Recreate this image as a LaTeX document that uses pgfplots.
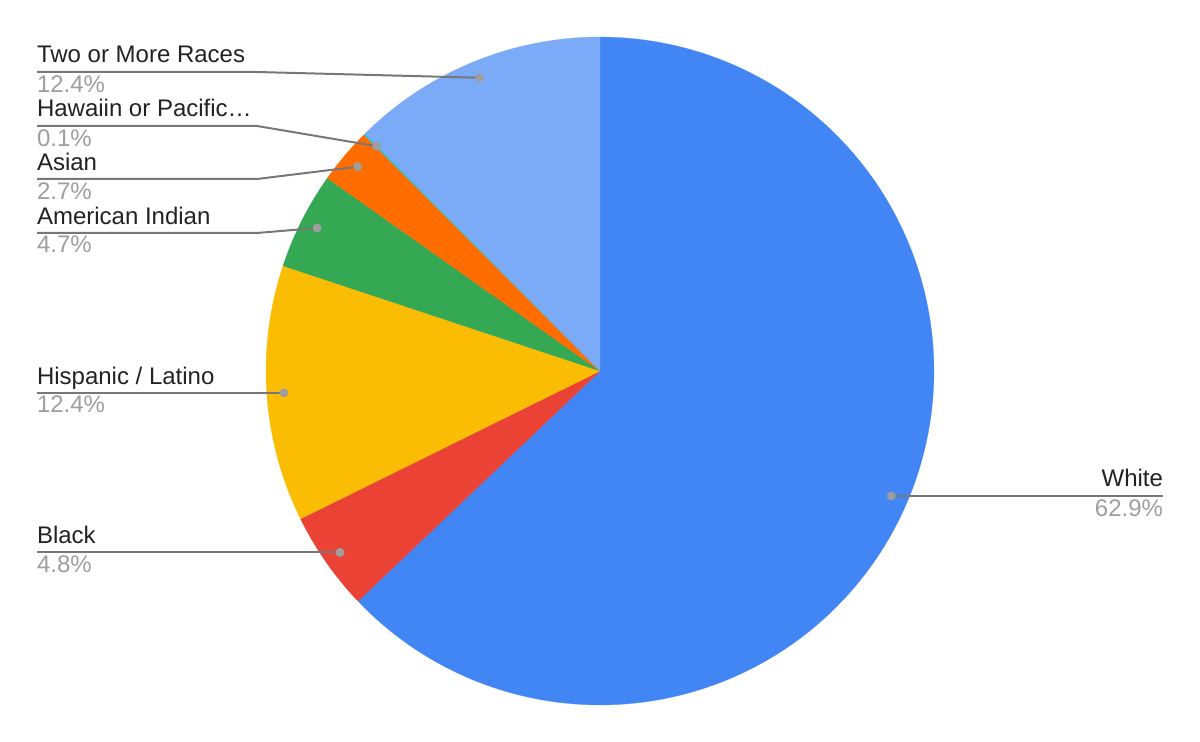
\documentclass[border=0pt]{standalone}
\usepackage{fontspec}
\setmainfont{Liberation Sans}
\usepackage{pgfplots}
\pgfplotsset{compat=1.18}

% Google-style palette
\definecolor{cWhite}{HTML}{4285F4}
\definecolor{cBlack}{HTML}{EA4335}
\definecolor{cHisp}{HTML}{FBBC04}
\definecolor{cAmInd}{HTML}{34A853}
\definecolor{cAsian}{HTML}{FF6D01}
\definecolor{cHawaii}{HTML}{46BDC6}
\definecolor{cTwo}{HTML}{7BAAF7}
\definecolor{leader}{HTML}{777777}
\definecolor{dotc}{HTML}{9E9E9E}
\definecolor{nameC}{HTML}{222222}
\definecolor{pctC}{HTML}{9E9E9E}

\tikzset{
  lbl/.style={font=\fontsize{12}{14}\selectfont, inner sep=0pt, outer sep=0pt},
  name/.style={lbl, text=nameC},
  pct/.style={lbl, text=pctC},
}

% Shares in percent, clockwise from 12 o'clock
\def\pWhite{62.9}
\def\pBlack{4.8}
\def\pHisp{12.4}
\def\pAmInd{4.7}
\def\pAsian{2.7}
\def\pHawaii{0.1}
\def\pTwo{12.4}

% Slice boundary angles (degrees)
\pgfmathsetmacro\aA{90}
\pgfmathsetmacro\aB{\aA-3.6*\pWhite}
\pgfmathsetmacro\aC{\aB-3.6*\pBlack}
\pgfmathsetmacro\aD{\aC-3.6*\pHisp}
\pgfmathsetmacro\aE{\aD-3.6*\pAmInd}
\pgfmathsetmacro\aF{\aE-3.6*\pAsian}
\pgfmathsetmacro\aG{\aF-3.6*\pHawaii}
\pgfmathsetmacro\aH{\aG-3.6*\pTwo}

% pie centre and radius (picture units), radius of label anchors
\def\cx{600}\def\cy{371}\def\R{334}\def\Rd{317}

\newcommand\anchorpt[4]{% start, end -> x macro, y macro
  \pgfmathsetmacro#3{\cx+\Rd*cos((#1+#2)/2)}%
  \pgfmathsetmacro#4{\cy-\Rd*sin((#1+#2)/2)}}
\anchorpt{\aA}{\aB}{\xW}{\yW}
\anchorpt{\aB}{\aC}{\xB}{\yB}
\anchorpt{\aC}{\aD}{\xHi}{\yHi}
\anchorpt{\aD}{\aE}{\xAI}{\yAI}
\anchorpt{\aE}{\aF}{\xAs}{\yAs}
\anchorpt{\aF}{\aG}{\xHa}{\yHa}
\anchorpt{\aG}{\aH}{\xT}{\yT}

\newcommand\slice[3]{% colour, from, to
  \addplot[fill=#1, draw=#1, line width=0.1pt, mark=none,
    domain=#3:#2, samples=120]
    ({\cx+\R*cos(x)},{\cy-\R*sin(x)}) -- (axis cs:\cx,\cy) -- cycle;}

\begin{document}
\begin{tikzpicture}
\useasboundingbox (0,0) rectangle (600pt,371pt);
\begin{axis}[
  at={(0,0)}, anchor=south west,
  scale only axis, width=600pt, height=371pt,
  xmin=0, xmax=1200, ymin=0, ymax=742, y dir=reverse,
  hide axis, clip=false,
]
\slice{cWhite}{\aA}{\aB}
\slice{cBlack}{\aB}{\aC}
\slice{cHisp}{\aC}{\aD}
\slice{cAmInd}{\aD}{\aE}
\slice{cAsian}{\aE}{\aF}
\slice{cHawaii}{\aF}{\aG}
\slice{cTwo}{\aG}{\aH}

% leader lines
\addplot[leader, line width=1pt, mark=none] coordinates {(37,72) (257,72) (\xT,\yT)};
\addplot[leader, line width=1pt, mark=none] coordinates {(37,126) (257,126) (\xHa,\yHa)};
\addplot[leader, line width=1pt, mark=none] coordinates {(37,179) (257,179) (\xAs,\yAs)};
\addplot[leader, line width=1pt, mark=none] coordinates {(37,233) (257,233) (\xAI,\yAI)};
\addplot[leader, line width=1pt, mark=none] coordinates {(37,\yHi) (\xHi,\yHi)};
\addplot[leader, line width=1pt, mark=none] coordinates {(37,\yB) (\xB,\yB)};
\addplot[leader, line width=1pt, mark=none] coordinates {(1163,\yW) (\xW,\yW)};

% anchor dots
\addplot[only marks, mark=*, mark size=2pt, color=dotc] coordinates {
  (\xW,\yW) (\xB,\yB) (\xHi,\yHi) (\xAI,\yAI) (\xAs,\yAs) (\xHa,\yHa) (\xT,\yT)};

% labels
\node[name, anchor=base west] at (axis cs:37,63) {Two or More Races};
\node[pct, anchor=base west] at (axis cs:37,93) {\pTwo\%};
\node[name, anchor=base west] at (axis cs:37,117) {Hawaiin or Pacific…};
\node[pct, anchor=base west] at (axis cs:37,147) {\pHawaii\%};
\node[name, anchor=base west] at (axis cs:37,171) {Asian};
\node[pct, anchor=base west] at (axis cs:37,200) {\pAsian\%};
\node[name, anchor=base west] at (axis cs:37,225) {American Indian};
\node[pct, anchor=base west] at (axis cs:37,253) {\pAmInd\%};
\node[name, anchor=base west] at (axis cs:37,385) {Hispanic / Latino};
\node[pct, anchor=base west] at (axis cs:37,413) {\pHisp\%};
\node[name, anchor=base west] at (axis cs:37,544) {Black};
\node[pct, anchor=base west] at (axis cs:37,573) {\pBlack\%};
\node[name, anchor=base east] at (axis cs:1163,487) {White};
\node[pct, anchor=base east] at (axis cs:1163,517) {\pWhite\%};
\end{axis}
\end{tikzpicture}
\end{document}
